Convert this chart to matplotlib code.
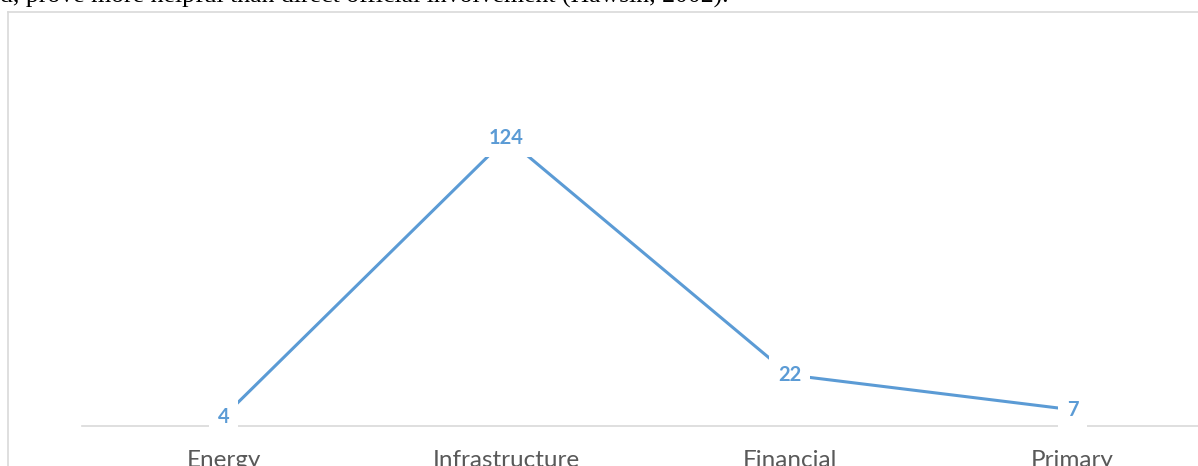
import matplotlib.pyplot as plt
from matplotlib.lines import Line2D

# ── data ─────────────────────────────────────────────────────────────────────
sectors = ["Energy", "Infrastructure", "Financial", "Primary"]
counts = [4, 124, 22, 7]

BLUE = "#5b9bd5"
GREY = "#d9d9d9"

W, H = 1198, 466
fig = plt.figure(figsize=(W / 100, H / 100), dpi=100)
fig.patch.set_facecolor("white")

# plot area runs past the right edge of the canvas
ax = fig.add_axes([82 / W, 40 / H, 1132 / W, 325 / H])
ax.set_facecolor("none")

x = list(range(len(sectors)))
ax.plot(x, counts, color=BLUE, lw=2.2, solid_capstyle="butt", zorder=2)

for xi, v in zip(x, counts):
    ax.text(xi, v, str(v), ha="center", va="center", color=BLUE,
            fontsize=14.5, fontweight="bold", family="Lato", zorder=4,
            bbox=dict(boxstyle="square,pad=0.45", fc="white", ec="none"))

ax.set_xlim(-0.5, len(sectors) - 0.5)
ax.set_ylim(0, 140)
ax.set_xticks(x)
ax.set_xticklabels(sectors, family="Lato", fontsize=17.5, color="#595959")
ax.tick_params(axis="x", length=0, pad=17)
ax.set_yticks([])

for s in ["top", "right", "left"]:
    ax.spines[s].set_visible(False)
ax.spines["bottom"].set_color(GREY)
ax.spines["bottom"].set_linewidth(1.2)
ax.spines["bottom"].set_zorder(1)

# chart frame, only its top-left corner falls inside the canvas
fig.add_artist(Line2D([8 / W, 8 / W], [0, 1 - 12 / H], color=GREY, lw=1.2,
                      transform=fig.transFigure))
fig.add_artist(Line2D([8 / W, 1], [1 - 12 / H, 1 - 12 / H], color=GREY, lw=1.2,
                      transform=fig.transFigure))

# tail of the preceding paragraph
fig.text(0, 1 - 3 / H,
         "d, prove more helpful than direct official involvement (Hawsin, 2002).",
         family="Liberation Serif", fontsize=18.5, color="black",
         ha="left", va="baseline")

fig.savefig("out.png", dpi=100)
